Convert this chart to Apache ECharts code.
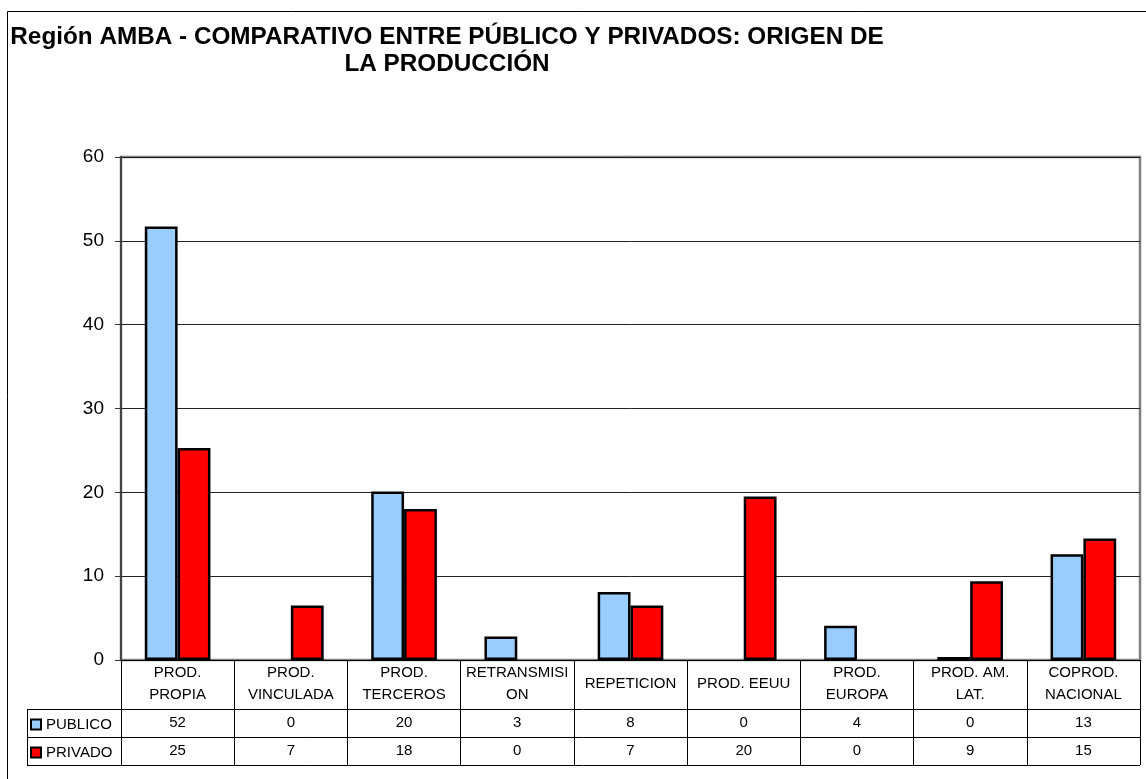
<!DOCTYPE html>
<html>
<head>
<meta charset="utf-8">
<script src="https://cdn.jsdelivr.net/npm/echarts@6/dist/echarts.min.js"></script>
<style>
html,body{margin:0;padding:0;background:#fff;}
#main{width:1146px;height:779px;}
</style>
</head>
<body>
<div id="main"></div>
<script>
const categories = ["PROD.\nPROPIA", "PROD.\nVINCULADA", "PROD.\nTERCEROS", "RETRANSMISI\nON", "REPETICION", "PROD. EEUU", "PROD.\nEUROPA", "PROD. AM.\nLAT.", "COPROD.\nNACIONAL"];
const publico = [51.7, 0, 20.1, 2.8, 8.1, 0, 4.1, 0.35, 12.6];
const privado = [25.3, 6.5, 18.0, 0, 6.5, 19.5, 0, 9.4, 14.5];
const publicoLabels = ["52", "0", "20", "3", "8", "0", "4", "0", "13"];
const privadoLabels = ["25", "7", "18", "0", "7", "20", "0", "9", "15"];
const yTicks = [0, 10, 20, 30, 40, 50, 60];

const FONT = "Liberation Sans, Arial, sans-serif";
const chart = echarts.init(document.getElementById('main'), null, {renderer: 'canvas'});

// zero-valued bars are not drawn in the original
const hideZero = arr => arr.map(v => (v === 0 ? '-' : v));

function valueAxis(labels, margin) {
  return {
    type: 'category', data: categories, position: 'bottom', gridIndex: 0,
    axisLine: {show: false}, axisTick: {show: false}, splitLine: {show: false},
    axisLabel: {interval: 0, margin: margin, verticalAlign: 'middle', color: '#000',
      fontFamily: FONT, fontSize: 15, formatter: (v, i) => labels[i]}
  };
}

const option = {
  animation: false,
  backgroundColor: '#fff',
  title: {
    text: 'Región AMBA - COMPARATIVO ENTRE PÚBLICO Y PRIVADOS: ORIGEN DE\nLA PRODUCCIÓN',
    left: 442, top: 19, textAlign: 'center',
    textStyle: {fontFamily: FONT, fontWeight: 'bold', fontSize: 24.3, lineHeight: 27, color: '#000'}
  },
  legend: {
    orient: 'vertical', left: 25, top: 712, itemWidth: 10, itemHeight: 10, itemGap: 13,
    icon: 'rect',
    textStyle: {fontFamily: FONT, fontSize: 15, color: '#000'},
    data: ['PUBLICO', 'PRIVADO'], selectedMode: false
  },
  grid: {left: 121, right: 6, top: 157, bottom: 119, show: true, borderColor: '#808080', borderWidth: 2.5, containLabel: false},
  xAxis: [
    {
      type: 'category', data: categories, position: 'bottom',
      axisLine: {show: true, lineStyle: {color: '#000', width: 1}},
      axisTick: {show: true, interval: 0, length: 105, lineStyle: {color: '#000', width: 1}},
      axisLabel: {interval: 0, margin: 24, verticalAlign: 'middle', color: '#000', fontFamily: FONT, fontSize: 15, lineHeight: 22},
      splitLine: {show: false}
    },
    valueAxis(publicoLabels, 63),
    valueAxis(privadoLabels, 91)
  ],
  yAxis: {
    type: 'value', min: yTicks[0], max: yTicks[yTicks.length - 1], interval: 10,
    axisLine: {show: true, lineStyle: {color: '#444', width: 2}},
    axisTick: {show: true, length: 6, lineStyle: {color: '#333', width: 1}},
    axisLabel: {margin: 17, color: '#000', fontFamily: FONT, fontSize: 19},
    splitLine: {show: true, lineStyle: {color: '#222', width: 1}}
  },
  series: [
    {name: 'PUBLICO', type: 'bar', data: hideZero(publico), barGap: '0%', barCategoryGap: '42%',
      itemStyle: {color: '#99CCFF', borderColor: '#000', borderWidth: 2.5}},
    {name: 'PRIVADO', type: 'bar', data: hideZero(privado), barGap: '0%', barCategoryGap: '42%',
      itemStyle: {color: '#FF0000', borderColor: '#000', borderWidth: 2.5}}
  ],
  graphic: [
    {type: 'rect', shape: {x: 7.5, y: 11.5, width: 1160, height: 800}, style: {fill: null, stroke: '#000', lineWidth: 1}, silent: true, z: -1},
    {type: 'line', shape: {x1: 27, y1: 709.5, x2: 1140, y2: 709.5}, style: {stroke: '#000', lineWidth: 1}, silent: true},
    {type: 'line', shape: {x1: 27, y1: 737.5, x2: 1140, y2: 737.5}, style: {stroke: '#000', lineWidth: 1}, silent: true},
    {type: 'line', shape: {x1: 27, y1: 765.5, x2: 1140, y2: 765.5}, style: {stroke: '#000', lineWidth: 1}, silent: true},
    {type: 'line', shape: {x1: 27.5, y1: 709, x2: 27.5, y2: 766}, style: {stroke: '#000', lineWidth: 1}, silent: true}
  ]
};
chart.setOption(option);
</script>
</body>
</html>
